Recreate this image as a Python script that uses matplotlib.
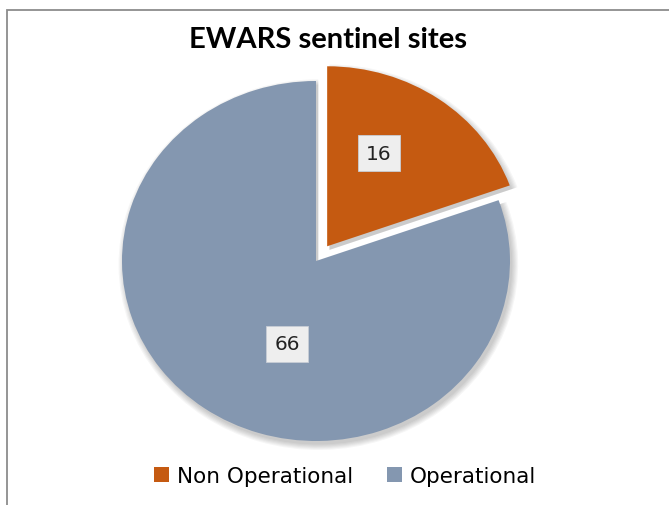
import matplotlib
matplotlib.use("Agg")
import matplotlib.pyplot as plt
from matplotlib.patches import Rectangle, Patch

# data
categories = ["Non Operational", "Operational"]
values = [16, 66]
colors = ["#C55A11", "#8497B0"]
explode = [0.1, 0.0]

fig = plt.figure(figsize=(6.69, 5.06), dpi=100)
fig.patch.set_facecolor("white")

# chart border (runs off the right/bottom edge like the screenshot)
fig.patches.append(Rectangle((7 / 669, -0.2), 1.2, 1 - 11 / 506 + 0.2,
                             transform=fig.transFigure, fill=False,
                             edgecolor="#8c8c8c", linewidth=1.3))

ax = fig.add_axes([83.2 / 669, 28 / 506, 465.6 / 669, 432 / 506])

# soft shadow: a few faint offset copies
for k in range(6):
    ax.pie(values, explode=explode, startangle=90, counterclock=False,
           radius=1.0 + 0.006 * k, center=(0.012, -0.02),
           colors=["#000000"] * len(values),
           wedgeprops=dict(alpha=0.035, linewidth=0))

wedges, texts, autotexts = ax.pie(
    values, explode=explode, startangle=90, counterclock=False,
    colors=colors, autopct=lambda p: "%d" % round(p * sum(values) / 100),
    pctdistance=0.58, wedgeprops=dict(linewidth=0),
    textprops=dict(fontsize=14.5, family="DejaVu Sans", color="#222222"))

# put value labels where the original chart has them
label_pos = [(0.325, 0.598), (-0.149, -0.461)]
for t, pos in zip(autotexts, label_pos):
    t.set_position(pos)
    t.set_bbox(dict(boxstyle="square,pad=0.42", facecolor="#EEEEEE",
                    edgecolor="#C8CDD6", linewidth=0.6))

ax.set_aspect("auto")
ax.set_xlim(-1.2, 1.2)
ax.set_ylim(-1.2, 1.2)
ax.axis("off")

fig.text(328 / 669, 1 - 40 / 506, "EWARS sentinel sites", ha="center",
         va="center", fontsize=21, fontweight="bold", family="Lato")

handles = [Patch(facecolor=c, edgecolor="none") for c in colors]
fig.legend(handles, categories, loc="center", bbox_to_anchor=(345 / 669, 1 - 477 / 506),
           ncol=2, frameon=False, prop=dict(family="DejaVu Sans", size=15.5),
           handlelength=0.7, handleheight=0.7, handletextpad=0.35,
           columnspacing=1.6)

fig.savefig("out.png", dpi=100)
